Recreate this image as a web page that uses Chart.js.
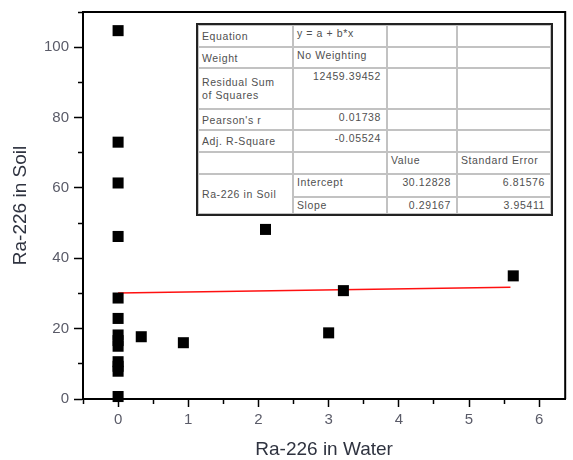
<!DOCTYPE html>
<html>
<head>
<meta charset="utf-8">
<script src="https://cdn.jsdelivr.net/npm/chart.js@4/dist/chart.umd.min.js"></script>
<style>
  html, body { margin: 0; padding: 0; background: #fff; }
  #wrap { position: relative; width: 573px; height: 460px; }
  #fitTable {
    position: absolute; left: 196px; top: 23px;
    width: 357px; height: 193px; box-sizing: border-box;
    border: 2px solid #222; background: #fff;
    display: grid;
    grid-template-columns: 95px 94px 70px 94px;
    grid-template-rows: 22px 21px 41px 21px 22px 22px 23px 17px;
    font-family: 'Liberation Sans', Arial, sans-serif;
    font-size: 10.5px; letter-spacing: 0.6px; color: #505050;
  }
  #fitTable div {
    box-sizing: border-box; border: 1px solid #c2c2c2;
    padding: 1px 3px 0 3px; line-height: 13px; white-space: nowrap; overflow: hidden;
  }
  #fitTable div.lbl { display: flex; align-items: center; }
  #fitTable div.num { text-align: right; padding-right: 5px; }
</style>
</head>
<body>
<div id="wrap">
  <canvas id="scatterChart" width="573" height="460"></canvas>
  <div id="fitTable"></div>
</div>
<script>
// Ra-226 measurements: water (x) vs soil (y)
const waterValues = [0, 0, 0, 0, 0, 0, 0, 0, 0, 0, 0, 0, 0, 0.33, 0.93, 2.1, 3.0, 3.21, 5.63];
const soilValues = [104.7, 73, 61.4, 46.2, 28.7, 22.9, 18.2, 16.6, 15.0, 10.6, 9.3, 7.9, 0.7, 17.7, 16.0, 48.2, 18.8, 30.8, 35.0];

// linear fit end points (as drawn)
const fitX = [0, 5.59];
const fitY = [30.13, 31.76];

const xTicks = { min: -0.5, max: 6.37, step: 0.5 };
const yTicks = { min: 0, max: 110, step: 10 };

// fit statistics table: [text, class]
const tableRows = [
  [['Equation', 'lbl'], ['y = a + b*x', ''], ['', ''], ['', '']],
  [['Weight', 'lbl'], ['No Weighting', ''], ['', ''], ['', '']],
  [['Residual Sum<br>of Squares', 'lbl'], ['12459.39452', 'num'], ['', ''], ['', '']],
  [["Pearson's r", 'lbl'], ['0.01738', 'num'], ['', ''], ['', '']],
  [['Adj. R-Square', 'lbl'], ['-0.05524', 'num'], ['', ''], ['', '']],
  [['', 'lbl'], ['', ''], ['Value', ''], ['Standard Error', '']],
  [['Ra-226 in Soil', 'lbl span'], ['Intercept', ''], ['30.12828', 'num'], ['6.81576', 'num']],
  [['Slope', ''], ['0.29167', 'num'], ['3.95411', 'num']]
];

const table = document.getElementById('fitTable');
tableRows.forEach((row, r) => {
  row.forEach(([text, cls]) => {
    const d = document.createElement('div');
    d.className = cls.replace('span', '').trim();
    if (cls.includes('span')) d.style.gridRow = (r + 1) + ' / span 2';
    d.innerHTML = text;
    table.appendChild(d);
  });
});

const fontFamily = "'Liberation Sans', Arial, sans-serif";
const tickGray = '#5a5b68';

// x ticks are stroked from the axis outwards: keep the first part
function xTickDash(isMajor) {
  return isMajor ? [7, 100] : [4, 100];
}
// y ticks are stroked from the outer end (13px long) to the axis: keep the last part
function yTickDash(isMajor) {
  return isMajor ? [0, 5, 8, 100] : [0, 9, 4, 100];
}

// top and right frame lines around the plot area
const framePlugin = {
  id: 'frame',
  afterDraw(chart) {
    const { ctx, chartArea: a } = chart;
    ctx.save();
    ctx.strokeStyle = '#000';
    ctx.lineWidth = 2;
    ctx.beginPath();
    ctx.moveTo(a.left, a.top);
    ctx.lineTo(a.right, a.top);
    ctx.lineTo(a.right, a.bottom);
    ctx.stroke();
    ctx.restore();
  }
};

new Chart(document.getElementById('scatterChart'), {
  type: 'scatter',
  data: {
    datasets: [{
      data: waterValues.map((x, i) => ({ x, y: soilValues[i] })),
      pointStyle: 'rect',
      pointRadius: 7.8,
      pointHoverRadius: 7.8,
      backgroundColor: '#000',
      borderColor: '#000',
      borderWidth: 0,
      clip: false
    }, {
      data: fitX.map((x, i) => ({ x, y: fitY[i] })),
      showLine: true,
      borderColor: '#ff1010',
      borderWidth: 1.6,
      pointRadius: 0,
      clip: false
    }]
  },
  options: {
    responsive: false,
    animation: false,
    layout: { padding: { top: 12, right: 2, left: 0, bottom: 0 } },
    plugins: { legend: { display: false }, tooltip: { enabled: false } },
    scales: {
      x: {
        type: 'linear',
        min: xTicks.min, max: xTicks.max,
        afterFit(scale) { scale.height = 61; },
        border: { color: '#000', width: 2 },
        grid: {
          drawOnChartArea: false, drawTicks: true, tickLength: 18,
          tickColor: '#000', tickWidth: 1.5,
          tickBorderDash: ctx => xTickDash(ctx.tick && Number.isInteger(ctx.tick.value))
        },
        ticks: {
          stepSize: xTicks.step, autoSkip: false, maxRotation: 0, includeBounds: false,
          padding: -6, color: tickGray,
          font: { family: fontFamily, size: 15 },
          callback: v => Number.isInteger(v) ? String(v) : ''
        },
        title: {
          display: true, text: 'Ra-226 in Water', color: '#2f3340',
          font: { family: fontFamily, size: 19, lineHeight: 1 },
          padding: { top: 0, bottom: 1 }
        }
      },
      y: {
        type: 'linear',
        min: yTicks.min, max: yTicks.max,
        afterFit(scale) { scale.width = 83; },
        border: { color: '#000', width: 2 },
        grid: {
          drawOnChartArea: false, drawTicks: true, tickLength: 14,
          tickColor: '#000', tickWidth: 1.5,
          tickBorderDash: ctx => yTickDash(ctx.tick && ctx.tick.value % 20 === 0)
        },
        ticks: {
          stepSize: yTicks.step, autoSkip: false,
          padding: 0, color: tickGray,
          font: { family: fontFamily, size: 15 },
          callback: v => v % 20 === 0 ? String(v) : ''
        },
        title: {
          display: true, text: 'Ra-226 in Soil', color: '#2f3340',
          font: { family: fontFamily, size: 19, lineHeight: 1 },
          padding: { top: 11, bottom: 0 }
        }
      }
    }
  },
  plugins: [framePlugin]
});
</script>
</body>
</html>
